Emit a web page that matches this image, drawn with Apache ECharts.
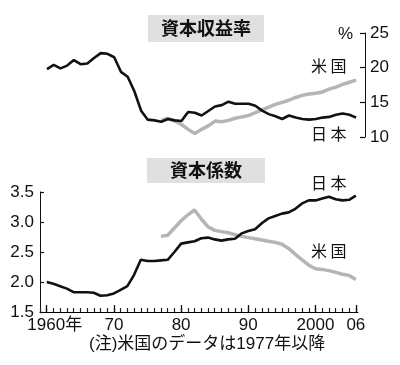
<!DOCTYPE html>
<html>
<head>
<meta charset="utf-8">
<script src="https://cdn.jsdelivr.net/npm/echarts@6/dist/echarts.min.js"></script>
<style>
html,body{margin:0;padding:0;background:#fff;}
#c{width:400px;height:365px;}
</style>
</head>
<body>
<div id="c"></div>
<script>
// ---- data ----
var jpYears = [];
for (var y = 1960; y <= 2006; y++) jpYears.push(y);
var usYears = [];
for (var y2 = 1977; y2 <= 2006; y2++) usYears.push(y2);

// 資本収益率 (%)
var jpRate = [19.8,20.4,19.9,20.3,21.1,20.5,20.6,21.4,22.1,22.0,
              21.5,19.4,18.7,16.6,13.8,12.5,12.4,12.2,12.6,12.4,
              12.3,13.6,13.5,13.1,13.75,14.4,14.6,15.1,14.8,14.8,
              14.8,14.5,13.8,13.3,13.0,12.6,13.1,12.8,12.6,12.5,
              12.6,12.8,12.9,13.2,13.4,13.2,12.8];
var usRate = [12.4,12.7,12.3,11.8,11.1,10.5,11.1,11.6,12.3,12.2,
              12.4,12.7,12.9,13.1,13.5,13.9,14.3,14.7,15.0,15.3,
              15.7,16.0,16.2,16.3,16.5,16.9,17.2,17.6,17.9,18.2];

// 資本係数
var jpCoef = [2.00,1.97,1.93,1.89,1.83,1.83,1.83,1.82,1.77,1.78,
              1.81,1.87,1.93,2.12,2.37,2.35,2.35,2.36,2.37,2.50,
              2.64,2.66,2.68,2.73,2.74,2.71,2.69,2.71,2.72,2.81,
              2.85,2.88,2.98,3.06,3.10,3.14,3.16,3.22,3.31,3.36,
              3.36,3.39,3.42,3.38,3.36,3.37,3.44];
var usCoef = [2.76,2.78,2.90,3.02,3.12,3.20,3.05,2.92,2.86,2.84,
              2.82,2.79,2.76,2.74,2.72,2.70,2.68,2.66,2.63,2.56,
              2.46,2.37,2.28,2.22,2.21,2.19,2.16,2.13,2.11,2.04];

// tick labels
var xLabelYears = [1960,1970,1980,1990,2000,2006];
var xLabelTexts = ['1960年','70','80','90','2000','06'];
var rateTicks = [10,15,20,25];

function pairs(xs, vs){ return xs.map(function(x,i){ return [x, vs[i]]; }); }

var FONT = '"Liberation Sans", "Noto Sans CJK JP", sans-serif';
var JP_COLOR = '#111';
var US_COLOR = '#b5b5b5';

var chart = echarts.init(document.getElementById('c'), null, {renderer:'canvas'});

var option = {
  backgroundColor: '#fff',
  animation: false,
  textStyle: {fontFamily: FONT, color: '#111'},
  title: [
    {text: '資本収益率', left: 148, top: 15,
     padding: [4, 13, 4, 13], backgroundColor: '#e0e0e0',
     textStyle: {fontSize: 18, fontWeight: 'bold', color: '#111', fontFamily: '"Noto Sans CJK JP", sans-serif', lineHeight: 19}},
    {text: '資本係数', left: 147, top: 158,
     padding: [3, 23, 3, 23], backgroundColor: '#e0e0e0',
     textStyle: {fontSize: 18, fontWeight: 'bold', color: '#111', fontFamily: '"Noto Sans CJK JP", sans-serif', lineHeight: 19}}
  ],
  grid: [
    {left: 47, top: 33, width: 318, height: 104},
    {left: 40, top: 192, width: 318, height: 120}
  ],
  xAxis: [
    {type: 'value', gridIndex: 0, min: 1960, max: 2007.32, show: false},
    {type: 'value', gridIndex: 1, min: 1959, max: 2006.32, interval: 1,
     axisLine: {show: true, lineStyle: {color: '#000', width: 1}},
     axisTick: {show: true, inside: true, length: 4, lineStyle: {color: '#222', width: 1.2}},
     splitLine: {show: false},
     axisLabel: {show: true, interval: 0, hideOverlap: false, showMinLabel: true, showMaxLabel: false,
                 margin: 5, fontSize: 17, color: '#111', fontFamily: FONT,
                 formatter: function(v){
                   var i = xLabelYears.indexOf(Math.round(v));
                   if (i < 0 || Math.abs(v - Math.round(v)) > 0.01) return '';
                   return i === 0 ? '{s| }' + xLabelTexts[i] : xLabelTexts[i];
                 },
                 rich: {s: {width: 16}}}},
    {type: 'value', gridIndex: 1, min: 1959, max: 2006.32, position: 'bottom',
     axisLine: {show: false},
     axisTick: {show: true, inside: true, length: 7, lineStyle: {color: '#111', width: 1.3},
                customValues: xLabelYears},
     axisLabel: {show: false, customValues: xLabelYears}, splitLine: {show: false}}
  ],
  yAxis: [
    {type: 'value', gridIndex: 0, position: 'right', min: 10, max: 25, interval: 5,
     axisLine: {show: true, lineStyle: {color: '#111', width: 1}},
     axisTick: {show: true, inside: true, length: 5, lineStyle: {color: '#111', width: 1.2}},
     splitLine: {show: false},
     axisLabel: {margin: 5, fontSize: 17, color: '#111', fontFamily: FONT,
                 customValues: rateTicks}},
    {type: 'value', gridIndex: 1, min: 1.5, max: 3.5, interval: 0.5,
     axisLine: {show: true, lineStyle: {color: '#111', width: 1}},
     axisTick: {show: true, inside: true, length: 4, lineStyle: {color: '#111', width: 1.2}},
     splitLine: {show: false},
     axisLabel: {margin: 6, fontSize: 17, color: '#111', fontFamily: FONT,
                 formatter: function(v){ return v.toFixed(1); }}}
  ],
  series: [
    {name: '米国 収益率', type: 'line', xAxisIndex: 0, yAxisIndex: 0,
     data: pairs(usYears, usRate), symbol: 'none',
     lineStyle: {color: US_COLOR, width: 3.5}},
    {name: '日本 収益率', type: 'line', xAxisIndex: 0, yAxisIndex: 0,
     data: pairs(jpYears, jpRate), symbol: 'none',
     lineStyle: {color: JP_COLOR, width: 2.6}},
    {name: '米国 係数', type: 'line', xAxisIndex: 1, yAxisIndex: 1,
     data: pairs(usYears, usCoef), symbol: 'none',
     lineStyle: {color: US_COLOR, width: 3.5}},
    {name: '日本 係数', type: 'line', xAxisIndex: 1, yAxisIndex: 1,
     data: pairs(jpYears, jpCoef), symbol: 'none',
     lineStyle: {color: JP_COLOR, width: 2.6}}
  ],
  graphic: [
    {type: 'text', left: 338, top: 26, style: {text: '%', font: '17px ' + FONT, fill: '#111'}},
    {type: 'text', left: 311, top: 58, style: {text: '米 国', font: '16px "Noto Sans CJK JP"', fill: '#111'}},
    {type: 'text', left: 311, top: 126, style: {text: '日 本', font: '16px "Noto Sans CJK JP"', fill: '#111'}},
    {type: 'text', left: 311, top: 175, style: {text: '日 本', font: '16px "Noto Sans CJK JP"', fill: '#111'}},
    {type: 'text', left: 311, top: 243, style: {text: '米 国', font: '16px "Noto Sans CJK JP"', fill: '#111'}},
    {type: 'text', left: 89, top: 336, style: {text: '(注)米国のデータは1977年以降', font: '17px ' + FONT, fill: '#111'}}
  ]
};
chart.setOption(option);
</script>
</body>
</html>
